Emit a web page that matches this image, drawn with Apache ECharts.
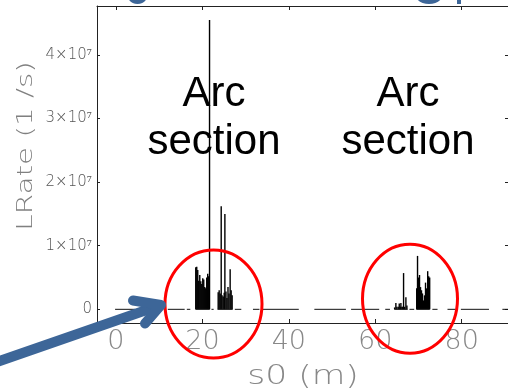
<!DOCTYPE html>
<html>
<head>
<meta charset="utf-8">
<script src="https://cdn.jsdelivr.net/npm/echarts@6/dist/echarts.min.js"></script>
<style>
html,body{margin:0;padding:0;background:#fff;}
#chart{width:508px;height:392px;}
</style>
</head>
<body>
<div id="chart"></div>
<script>
// ---- data ----
const xTicks = [0, 20, 40, 60, 80];
const yTicks = [0, 1e7, 2e7, 3e7, 4e7];
// impulse positions (m) and loss rates (1/s)
const s0 = [
  18.46, 18.69, 18.92, 19.15, 19.39, 19.62, 19.85, 20.08, 20.31, 20.54, 20.77, 21.0, 21.23, 21.46, 21.65,
  23.65, 23.88, 24.12, 24.35, 24.55, 24.81, 25.04, 25.2, 25.45, 25.68, 25.92, 26.15, 26.42, 26.65, 26.88,
  64.47, 64.76, 64.99, 65.3, 65.54, 65.77, 65.92, 66.15, 66.35, 66.54, 66.77, 67.08, 67.31,
  69.58, 69.77, 70.0, 70.23, 70.46, 70.69, 70.92, 71.15, 71.38, 71.62, 71.85, 72.12, 72.35, 72.58
];
const lrate = [
  6.6e6, 6.7e6, 6.2e6, 4.5e6, 5.4e6, 4.4e6, 4.0e6, 4.9e6, 4.7e6, 3.5e6, 3.3e6, 5.0e6, 5.6e6, 5.2e6, 4.55e7,
  2.7e6, 3.0e6, 2.5e6, 1.62e7, 2.2e6, 2.0e6, 2.6e6, 1.5e7, 2.8e6, 1.8e6, 3.5e6, 2.5e6, 6.3e6, 3.0e6, 2.2e6,
  3e5, 1.0e6, 4e5, 4e5, 9e5, 4e5, 1.0e6, 4e5, 4e5, 5.7e6, 4e5, 1.9e6, 6e5,
  3.3e6, 8.4e6, 5.0e6, 5.4e6, 3.5e6, 3.0e6, 2.5e6, 1.4e6, 2.2e6, 4.2e6, 3.3e6, 6.0e6, 5.2e6, 5.0e6
];
// baseline (zero-rate) stretches, start / end in m
const segStart = [-0.2, 12.0, 16.4, 18.4, 22.1, 23.5, 27.5, 31.7, 33.9, 45.9, 54.4, 62.3, 64.4, 67.9, 69.5, 73.2, 76.7, 79.8, 89.4];
const segEnd   = [ 4.4, 15.9, 17.2, 21.7, 22.6, 27.0, 29.0, 33.2, 42.3, 53.2, 60.9, 63.4, 67.5, 69.0, 72.6, 74.4, 78.6, 86.3, 91.0];

const impulses = s0.map((s, i) => [s, lrate[i]]);
const baseline = [];
segStart.forEach((a, i) => {
  baseline.push([a, 0], [segEnd[i], 0], [segEnd[i], '-']);
});

const chart = echarts.init(document.getElementById('chart'), null, {renderer: 'canvas'});
const frame = {lineStyle: {color: '#222', width: 1}};
const tickFont = 'DejaVu Sans';

chart.setOption({
  animation: false,
  grid: {left: 97, top: 6, width: 412, bottom: 69, containLabel: false},
  xAxis: [{
    type: 'value', min: -4.385, max: 90.7, position: 'bottom',
    axisLine: Object.assign({show: true, onZero: false}, frame),
    axisTick: {show: true, inside: true, length: 4, customValues: xTicks, lineStyle: {color: '#222'}},
    axisLabel: {show: true, customValues: xTicks, margin: 5, color: '#888', fontSize: 27, fontFamily: tickFont, fontWeight: 200},
    splitLine: {show: false}
  }, {
    type: 'value', min: -4.385, max: 90.7, position: 'top',
    axisLine: Object.assign({show: true, onZero: false}, frame),
    axisTick: {show: true, inside: true, length: 4, customValues: xTicks, lineStyle: {color: '#222'}},
    axisLabel: {show: false}, splitLine: {show: false}
  }],
  yAxis: [{
    type: 'value', min: -2.15e6, max: 4.77e7, position: 'left',
    axisLine: Object.assign({show: true, onZero: false}, frame),
    axisTick: {show: true, inside: true, length: 3, customValues: yTicks, lineStyle: {color: '#222'}},
    axisLabel: {show: true, customValues: yTicks, margin: 5, color: '#555', fontSize: 15, fontFamily: tickFont, fontWeight: 200,
      formatter: v => v === 0 ? '0' : (v / 1e7) + '×10⁷'},
    splitLine: {show: false}
  }, {
    type: 'value', min: -2.15e6, max: 4.77e7, position: 'right',
    axisLine: Object.assign({show: true, onZero: false}, frame),
    axisTick: {show: true, inside: true, length: 3, customValues: yTicks, lineStyle: {color: '#222'}},
    axisLabel: {show: false}, splitLine: {show: false}
  }],
  series: [{
    type: 'line', data: baseline, xAxisIndex: 0, yAxisIndex: 0,
    showSymbol: false, symbol: 'none', connectNulls: false,
    lineStyle: {color: '#111', width: 1}, z: 3
  }, {
    type: 'bar', data: impulses, xAxisIndex: 0, yAxisIndex: 0,
    barWidth: 1.4, itemStyle: {color: '#000'}, z: 3
  }],
  graphic: [
    {type: 'text', z: 1, style: {x: 214, y: 118, text: 'Arc\nsection', align: 'center', verticalAlign: 'middle',
      font: '42px "Liberation Sans", Arial, sans-serif', lineHeight: 48, fill: '#000'}},
    {type: 'text', z: 1, style: {x: 408, y: 118, text: 'Arc\nsection', align: 'center', verticalAlign: 'middle',
      font: '42px "Liberation Sans", Arial, sans-serif', lineHeight: 48, fill: '#000'}},
    {type: 'text', z: 1, x: 27, y: 146, rotation: Math.PI / 2, scaleX: 1.4,
      style: {text: 'LRate (1 /s)', align: 'center', verticalAlign: 'middle',
      font: '200 21px "DejaVu Sans"', fill: '#808080'}},
    {type: 'text', z: 1, x: 303, y: 377, scaleX: 1.28,
      style: {text: 's0 (m)', align: 'center', verticalAlign: 'middle',
      font: '200 27px "DejaVu Sans"', fill: '#888'}},
    {type: 'ellipse', z: 5, shape: {cx: 213.5, cy: 304, rx: 48.5, ry: 54}, style: {fill: 'none', stroke: '#ff0000', lineWidth: 3}},
    {type: 'ellipse', z: 5, shape: {cx: 410, cy: 298.7, rx: 47.5, ry: 54.5}, style: {fill: 'none', stroke: '#ff0000', lineWidth: 3}},
    {type: 'polyline', z: 10, shape: {points: [[-6, 363], [158, 306]]}, style: {stroke: '#3d6698', lineWidth: 10, lineCap: 'round', fill: 'none'}},
    {type: 'polyline', z: 10, shape: {points: [[133, 300.5], [161, 305], [145, 323.5]]}, style: {stroke: '#3d6698', lineWidth: 10, lineCap: 'round', lineJoin: 'round', fill: 'none'}},
    {type: 'ellipse', z: 10, shape: {cx: 137.5, cy: -6, rx: 10.5, ry: 10}, style: {fill: '#3d6698'}},
    {type: 'ellipse', z: 10, shape: {cx: 429, cy: -6, rx: 14, ry: 10}, style: {fill: '#3d6698'}},
    {type: 'rect', z: 10, shape: {x: 457, y: 0, width: 4, height: 4}, style: {fill: '#3d6698'}}
  ]
});
</script>
</body>
</html>
